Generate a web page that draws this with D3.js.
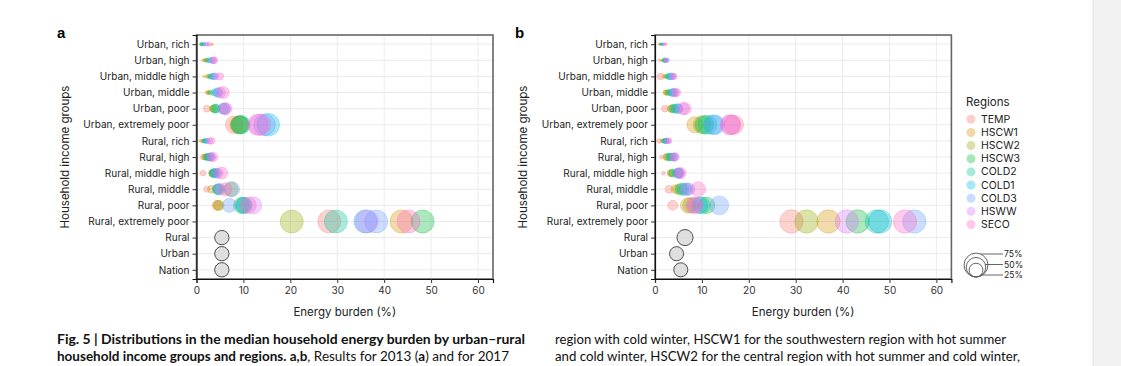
<!DOCTYPE html>
<html>
<head>
<meta charset="utf-8">
<script src="https://cdn.jsdelivr.net/npm/d3@7"></script>
<style>
  html, body { margin: 0; padding: 0; background: #fff; }
  svg { display: block; }
</style>
</head>
<body>
<svg id="chart" width="1121" height="366"></svg>
<script>
// ---------- DATA ----------
const rows = ["Urban, rich", "Urban, high", "Urban, middle high", "Urban, middle", "Urban, poor",
  "Urban, extremely poor", "Rural, rich", "Rural, high", "Rural, middle high", "Rural, middle",
  "Rural, poor", "Rural, extremely poor", "Rural", "Urban", "Nation"];
const groups = rows.slice(0, 12);
const aggregates = ["Rural", "Urban", "Nation"];
const regions = ["TEMP", "HSCW1", "HSCW2", "HSCW3", "COLD2", "COLD1", "COLD3", "HSWW", "SECO"];
const regionColors = ["#F8766D", "#D39200", "#93AA00", "#00BA38", "#00C19F", "#00B9E3", "#619CFF", "#DB72FB", "#FF61C3"];
const xTicks = [0, 10, 20, 30, 40, 50, 60];
const sizeLegend = [75, 50, 25];

// 2013 (panel a): median energy burden (%) per region, per group (12 groups in row order)
const a_TEMP  = [1.5, 2.0, 2.5, 2.6, 2.2, 8.0, 1.3, 1.5, 1.4, 2.2, 4.3, 28.3];
const a_HSCW1 = [3.3, 1.4, 1.7, 2.2, 3.4, 9.0, 0.8, 1.7, 3.3, 3.2, 4.6, 43.7];
const a_HSCW2 = [1.0, 1.8, 2.4, 2.5, 3.7, 9.2, 1.3, 2.0, 3.5, 7.3, 4.8, 20.3];
const a_HSCW3 = [1.0, 2.2, 2.9, 3.0, 4.0, 9.3, 1.6, 2.2, 3.6, 4.4, 9.6, 48.2];
const a_COLD2 = [1.2, 2.6, 3.2, 3.8, 4.2, 9.5, 1.8, 2.5, 3.8, 4.6, 10.0, 29.7];
const a_COLD1 = [1.6, 3.0, 3.5, 4.4, 5.6, 15.3, 2.0, 2.8, 4.0, 4.8, 10.2, 36.0];
const a_COLD3 = [2.0, 3.4, 3.8, 4.6, 6.0, 14.5, 2.2, 3.0, 4.3, 7.6, 7.0, 38.3];
const a_HSWW  = [2.3, 3.6, 4.0, 5.1, 6.3, 13.0, 2.8, 3.2, 4.6, 5.0, 12.1, 36.3];
const a_SECO  = [2.7, 3.8, 5.0, 5.7, 6.0, 13.5, 3.2, 3.6, 5.4, 6.2, 11.0, 45.2];
// 2013 bubble size (%)
const aS_TEMP  = [1.5, 2, 2, 2, 6, 40, 1.5, 5, 4.5, 5, 12, 70];
const aS_HSCW1 = [1.2, 1.2, 1.2, 1.5, 5, 42, 1, 4, 6, 8, 13, 70];
const aS_HSCW2 = [1.2, 1.5, 2, 2, 8, 43, 1.5, 5, 8, 28, 14, 70];
const aS_HSCW3 = [1.2, 2, 3, 3, 10, 43, 2, 6, 10, 13, 34, 70];
const aS_COLD2 = [1.5, 3, 4, 6, 10, 45, 3, 7, 10, 14, 34, 70];
const aS_COLD1 = [1.5, 4, 5, 10, 15, 67, 3, 8, 11, 16, 34, 70];
const aS_COLD3 = [2, 5, 6, 12, 17, 62, 4, 9, 12, 30, 26, 70];
const aS_HSWW  = [2, 6, 6, 14, 19, 57, 5, 10, 14, 18, 38, 70];
const aS_SECO  = [2, 6, 7, 19, 17, 60, 6, 11, 19, 22, 36, 70];
const a_agg = [5.4, 5.4, 5.4];
const aS_agg = [27, 27, 27];

// 2017 (panel b)
const b_TEMP  = [1.0, 0.9, 1.2, 2.6, 2.1, 16.8, 0.9, 1.4, 1.8, 3.0, 3.8, 29.1];
const b_HSCW1 = [1.2, 1.4, 2.0, 2.2, 3.4, 8.5, 1.5, 2.4, 3.3, 4.3, 7.0, 37.0];
const b_HSCW2 = [1.0, 1.6, 2.3, 2.4, 3.6, 10.0, 1.7, 2.6, 3.5, 5.0, 7.6, 32.3];
const b_HSCW3 = [1.3, 1.9, 2.6, 2.9, 4.0, 10.5, 2.0, 3.0, 3.8, 5.6, 11.0, 43.2];
const b_COLD2 = [1.5, 2.1, 3.0, 3.5, 4.3, 11.2, 2.1, 3.3, 4.8, 6.0, 10.0, 47.3];
const b_COLD1 = [1.6, 2.2, 3.3, 3.8, 4.8, 12.4, 2.3, 3.6, 5.0, 6.5, 9.5, 48.0];
const b_COLD3 = [1.8, 2.7, 3.5, 4.0, 5.0, 12.8, 2.4, 4.1, 5.1, 7.2, 13.7, 55.3];
const b_HSWW  = [2.0, 2.5, 3.9, 4.3, 6.0, 16.2, 2.8, 4.3, 5.2, 6.8, 8.3, 40.9];
const b_SECO  = [2.3, 2.3, 4.0, 4.6, 6.4, 16.0, 3.0, 4.0, 5.5, 9.2, 8.6, 53.3];
const bS_TEMP  = [0.6, 0.6, 6, 3, 6, 50, 3, 2, 2, 8, 13, 72];
const bS_HSCW1 = [0.6, 1, 2, 3, 7, 34, 2, 6, 6, 10, 30, 72];
const bS_HSCW2 = [0.6, 1, 2, 4, 8, 40, 2, 6, 7, 14, 32, 72];
const bS_HSCW3 = [0.6, 1.5, 3, 5, 10, 45, 3, 7, 8, 18, 36, 72];
const bS_COLD2 = [0.8, 3, 5, 7, 10, 47, 3, 8, 13, 19, 36, 72];
const bS_COLD1 = [0.8, 3, 6, 8, 12, 50, 4, 8, 13, 19, 36, 72];
const bS_COLD3 = [0.8, 2, 6, 9, 12, 50, 4, 9, 13, 20, 47, 72];
const bS_HSWW  = [1, 2, 5, 9, 19, 52, 4, 9, 14, 20, 34, 72];
const bS_SECO  = [1, 2, 5, 9, 20, 52, 4, 8, 16, 30, 34, 72];
const b_agg = [6.4, 4.6, 5.5];
const bS_agg = [34, 26, 26];

const panelA = {
  values: [a_TEMP, a_HSCW1, a_HSCW2, a_HSCW3, a_COLD2, a_COLD1, a_COLD3, a_HSWW, a_SECO],
  sizes: [aS_TEMP, aS_HSCW1, aS_HSCW2, aS_HSCW3, aS_COLD2, aS_COLD1, aS_COLD3, aS_HSWW, aS_SECO],
  agg: a_agg, aggS: aS_agg
};
const panelB = {
  values: [b_TEMP, b_HSCW1, b_HSCW2, b_HSCW3, b_COLD2, b_COLD1, b_COLD3, b_HSWW, b_SECO],
  sizes: [bS_TEMP, bS_HSCW1, bS_HSCW2, bS_HSCW3, bS_COLD2, bS_COLD1, bS_COLD3, bS_HSWW, bS_SECO],
  agg: b_agg, aggS: bS_agg
};

// ---------- DRAW ----------
const svg = d3.select("#chart");
svg.append("rect").attr("width", 1121).attr("height", 366).attr("fill", "#fff");
svg.append("rect").attr("x", 1093).attr("y", 0).attr("width", 28).attr("height", 366).attr("fill", "#f2f2f2");
svg.append("line").attr("x1", 1093).attr("x2", 1093).attr("y1", 0).attr("y2", 366).attr("stroke", "#e4e4e4");

const FONT = "Inter, Roboto, 'Liberation Sans', sans-serif";
const rScale = d3.scaleSqrt().domain([0, 100]).range([0, 13.8]);
const color = d3.scaleOrdinal().domain(regions).range(regionColors);

function drawPanel(data, left, right, label, labelX, titleX) {
  const top = 35, bottom = 279;
  const x = d3.scaleLinear().domain([0, 63.2]).range([left, right]);
  const y = d3.scalePoint().domain(rows).range([top, bottom]).padding(0.57);
  const g = svg.append("g");

  // grid
  g.selectAll(".vg").data(xTicks).join("line")
    .attr("x1", d => x(d)).attr("x2", d => x(d)).attr("y1", top).attr("y2", bottom)
    .attr("stroke", "#ebebeb").attr("stroke-width", 1);
  g.selectAll(".hg").data(rows).join("line")
    .attr("x1", left).attr("x2", right).attr("y1", d => y(d)).attr("y2", d => y(d))
    .attr("stroke", "#ebebeb").attr("stroke-width", 1);

  // region bubbles
  regions.forEach((reg, ri) => {
    const pts = groups.map((grp, gi) => ({ grp, v: data.values[ri][gi], s: data.sizes[ri][gi] }));
    g.append("g").selectAll("circle").data(pts).join("circle")
      .attr("cx", d => x(d.v)).attr("cy", d => y(d.grp)).attr("r", d => rScale(d.s))
      .attr("fill", color(reg)).attr("fill-opacity", 0.33)
      .attr("stroke", color(reg)).attr("stroke-opacity", 0.35).attr("stroke-width", 0.8);
  });

  // aggregate bubbles
  const aggPts = aggregates.map((grp, i) => ({ grp, v: data.agg[i], s: data.aggS[i] }));
  g.append("g").selectAll("circle").data(aggPts).join("circle")
    .attr("cx", d => x(d.v)).attr("cy", d => y(d.grp)).attr("r", d => rScale(d.s))
    .attr("fill", "#d9d9d9").attr("fill-opacity", 0.85)
    .attr("stroke", "#4d4d4d").attr("stroke-width", 1);

  // frame
  g.append("rect").attr("x", left).attr("y", top).attr("width", right - left).attr("height", bottom - top)
    .attr("fill", "none").attr("stroke", "#666").attr("stroke-width", 1.6);

  // axes
  const xAxis = g.append("g").attr("transform", `translate(0,${bottom})`)
    .call(d3.axisBottom(x).tickValues(xTicks).tickSize(4).tickPadding(4));
  xAxis.select(".domain").attr("stroke", "#111").attr("stroke-width", 1.2);
  xAxis.selectAll(".tick line").attr("stroke", "#333");
  xAxis.selectAll("text").attr("font-family", FONT).attr("font-size", 10).attr("fill", "#333");

  const yAxis = g.append("g").attr("transform", `translate(${left},0)`)
    .call(d3.axisLeft(y).tickSize(4).tickPadding(3));
  yAxis.select(".domain").attr("stroke", "#111").attr("stroke-width", 1.2);
  yAxis.selectAll(".tick line").attr("stroke", "#333");
  yAxis.selectAll("text").attr("font-family", FONT).attr("font-size", 10).attr("fill", "#222");

  g.append("text").attr("x", (left + right) / 2).attr("y", 316).attr("text-anchor", "middle")
    .attr("font-family", FONT).attr("font-size", 11.5).attr("fill", "#222").text("Energy burden (%)");
  g.append("text").attr("transform", `translate(${titleX},157) rotate(-90)`).attr("text-anchor", "middle")
    .attr("dominant-baseline", "central")
    .attr("font-family", FONT).attr("font-size", 11.5).attr("fill", "#222").text("Household income groups");
  g.append("text").attr("x", labelX).attr("y", 37.5)
    .attr("font-family", "'Liberation Sans', Arial, sans-serif").attr("font-weight", "bold")
    .attr("font-size", 15).attr("fill", "#000").text(label);
}

drawPanel(panelA, 196.5, 493, "a", 57, 65);
drawPanel(panelB, 655, 951.4, "b", 515, 523);

// legend: regions
const lg = svg.append("g");
lg.append("text").attr("x", 966).attr("y", 106).attr("font-family", FONT).attr("font-size", 11.5)
  .attr("fill", "#222").text("Regions");
lg.selectAll(".it").data(regions).join("g").each(function (d, i) {
  const yy = 119.3 + i * 13.15;
  d3.select(this).append("circle").attr("cx", 971).attr("cy", yy).attr("r", 4.5)
    .attr("fill", color(d)).attr("fill-opacity", 0.35);
  d3.select(this).append("text").attr("x", 981).attr("y", yy).attr("dominant-baseline", "central")
    .attr("font-family", FONT).attr("font-size", 10.5).attr("fill", "#222").text(d);
});

// legend: sizes
const sl = svg.append("g");
const base = 277, scx = 976;
const labY = [254, 264.5, 275];
sizeLegend.forEach((p, i) => {
  const r = rScale(p);
  sl.append("circle").attr("cx", scx).attr("cy", base - r).attr("r", r)
    .attr("fill", "none").attr("stroke", "#555").attr("stroke-width", 0.9);
  const cy = base - r, dy = labY[i] - cy;
  const dx = Math.abs(dy) < r ? Math.sqrt(r * r - dy * dy) : 0;
  sl.append("line").attr("x1", scx + dx).attr("x2", 1003).attr("y1", labY[i]).attr("y2", labY[i])
    .attr("stroke", "#555").attr("stroke-width", 0.9);
  sl.append("text").attr("x", 1004).attr("y", labY[i]).attr("dominant-baseline", "central")
    .attr("font-family", FONT).attr("font-size", 8.6).attr("fill", "#222").text(p + "%");
});

// caption
const CAP = "Lato, 'Open Sans', sans-serif";
svg.append("text").attr("x", 57).attr("y", 344).attr("font-family", CAP).attr("font-size", 12.5)
  .attr("font-weight", "bold").attr("fill", "#111")
  .attr("textLength", 468).attr("lengthAdjust", "spacingAndGlyphs")
  .text("Fig. 5 | Distributions in the median household energy burden by urban\u2013rural");
const c2 = svg.append("text").attr("x", 57).attr("y", 361).attr("font-family", CAP).attr("font-size", 12.5)
  .attr("fill", "#111").attr("textLength", 452).attr("lengthAdjust", "spacingAndGlyphs");
c2.append("tspan").attr("font-weight", "bold").text("household income groups and regions. a,b");
c2.append("tspan").text(", Results for 2013 (");
c2.append("tspan").attr("font-weight", "bold").text("a");
c2.append("tspan").text(") and for 2017");
svg.append("text").attr("x", 555).attr("y", 344).attr("font-family", CAP).attr("font-size", 12.5)
  .attr("fill", "#111").attr("textLength", 451).attr("lengthAdjust", "spacingAndGlyphs")
  .text("region with cold winter, HSCW1 for the southwestern region with hot summer");
svg.append("text").attr("x", 555).attr("y", 361).attr("font-family", CAP).attr("font-size", 12.5)
  .attr("fill", "#111").attr("textLength", 465).attr("lengthAdjust", "spacingAndGlyphs")
  .text("and cold winter, HSCW2 for the central region with hot summer and cold winter,");
</script>
</body>
</html>
